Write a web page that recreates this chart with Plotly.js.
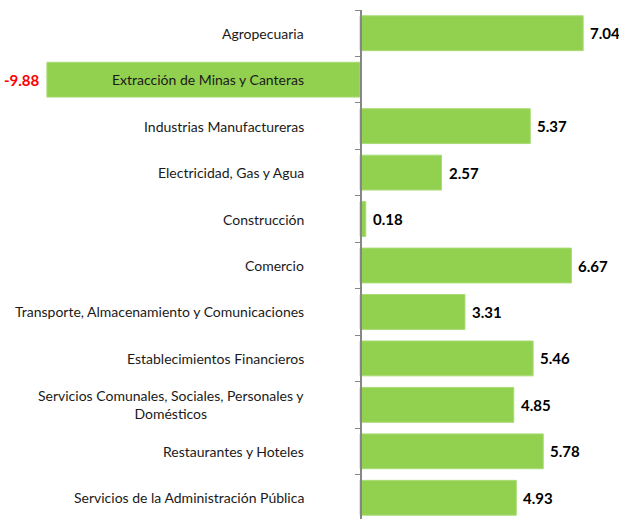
<!DOCTYPE html>
<html><head><meta charset="utf-8">
<script src="https://cdn.plot.ly/plotly-3.0.1.min.js"></script>
<style>html,body{margin:0;padding:0;background:#fff;overflow:hidden}#chart{width:619px;height:521px}</style>
</head><body><div id="chart"></div>
<script>
const categories = [
  "Agropecuaria",
  "Extracción de Minas y Canteras",
  "Industrias Manufactureras",
  "Electricidad, Gas y Agua",
  "Construcción",
  "Comercio",
  "Transporte, Almacenamiento y Comunicaciones",
  "Establecimientos Financieros",
  "Servicios Comunales, Sociales, Personales y<br>Domésticos",
  "Restaurantes y Hoteles",
  "Servicios de la Administración Pública"
];
const values = [7.04, -9.88, 5.37, 2.57, 0.18, 6.67, 3.31, 5.46, 4.85, 5.78, 4.93];
const valueLabels = ["7.04", "-9.88", "5.37", "2.57", "0.18", "6.67", "3.31", "5.46", "4.85", "5.78", "4.93"];

const FONT = "Lato, 'Liberation Sans', sans-serif";

const catAnn = categories.map((c) => ({
  xref: 'paper', yref: 'y', x: 306/619, y: c, text: c,
  xanchor: 'right', yanchor: 'middle', align: 'center', showarrow: false,
  font: {family: FONT, size: 14, color: '#1a1a1a'}
}));
const valAnn = categories.map((c, i) => ({
  xref: 'x', yref: 'y', x: values[i], y: c, text: '<b>' + valueLabels[i] + '</b>',
  xanchor: values[i] >= 0 ? 'left' : 'right', yanchor: 'middle',
  xshift: values[i] >= 0 ? 5 : -5, showarrow: false,
  font: {family: FONT, size: 15, color: values[i] >= 0 ? '#000000' : '#ff0000'}
}));

const trace = {
  type: 'bar', orientation: 'h', y: categories, x: values,
  marker: {color: '#92D050', line: {color: '#a9dc75', width: 1}},
  width: 0.75, hoverinfo: 'none'
};

const layout = {
  width: 619, height: 521,
  margin: {l: 0, r: 0, t: 10, b: 0},
  paper_bgcolor: '#ffffff', plot_bgcolor: '#ffffff',
  showlegend: false,
  xaxis: {range: [-11.36, 8.17], showgrid: false, zeroline: false, showticklabels: false, showline: false, fixedrange: true},
  yaxis: {
    type: 'category', autorange: 'reversed', anchor: 'free', position: 360/619,
    showline: true, linecolor: '#868686', linewidth: 1.5,
    ticks: 'outside', tickson: 'boundaries', ticklen: 5, tickcolor: '#868686', tickwidth: 1,
    showticklabels: false, showgrid: false, zeroline: false, fixedrange: true
  },
  annotations: catAnn.concat(valAnn)
};

Plotly.newPlot('chart', [trace], layout, {displayModeBar: false, staticPlot: true});
</script></body></html>
